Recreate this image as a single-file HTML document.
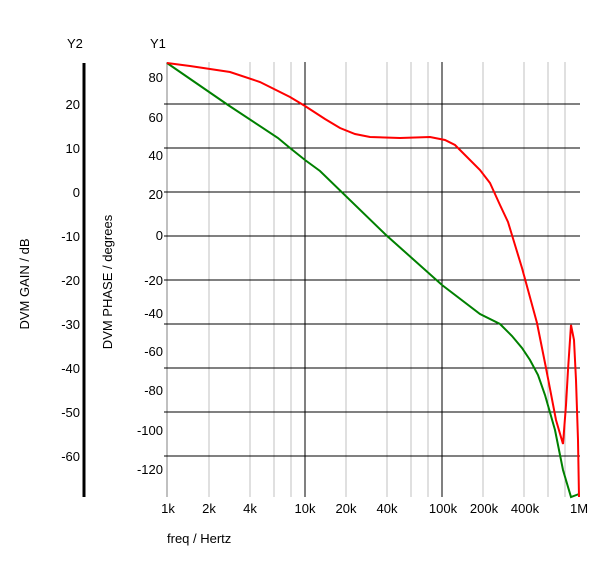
<!DOCTYPE html>
<html><head><meta charset="utf-8"><style>body{margin:0;background:#fff}svg{display:block;font-family:"Liberation Sans",sans-serif;font-size:13px}</style></head><body>
<svg width="600" height="563" viewBox="0 0 600 563">
<rect width="600" height="563" fill="#fff"/>
<g stroke="#c0c0c0" stroke-width="1">
<line x1="167" y1="62" x2="167" y2="497" stroke-width="2"/>
<line x1="209" y1="62" x2="209" y2="497"/><line x1="250" y1="62" x2="250" y2="497"/><line x1="274" y1="62" x2="274" y2="497"/><line x1="291" y1="62" x2="291" y2="497"/>
<line x1="346" y1="62" x2="346" y2="497"/><line x1="387" y1="62" x2="387" y2="497"/><line x1="411" y1="62" x2="411" y2="497"/><line x1="428" y1="62" x2="428" y2="497"/>
<line x1="483" y1="62" x2="483" y2="497"/><line x1="524" y1="62" x2="524" y2="497"/><line x1="548" y1="62" x2="548" y2="497"/><line x1="565" y1="62" x2="565" y2="497"/>
</g>
<g stroke="#000" stroke-width="1">
<line x1="305" y1="62" x2="305" y2="497"/><line x1="442" y1="62" x2="442" y2="497"/>
<line x1="164" y1="104" x2="580" y2="104"/><line x1="164" y1="148" x2="580" y2="148"/><line x1="164" y1="192" x2="580" y2="192"/><line x1="164" y1="236" x2="580" y2="236"/><line x1="164" y1="280" x2="580" y2="280"/><line x1="164" y1="324" x2="580" y2="324"/><line x1="164" y1="368" x2="580" y2="368"/><line x1="164" y1="412" x2="580" y2="412"/><line x1="164" y1="456" x2="580" y2="456"/>
</g>
<line x1="84" y1="63" x2="84" y2="497" stroke="#000" stroke-width="3"/>
<g fill="#000">
<text x="67" y="48">Y2</text><text x="150" y="48">Y1</text>
<g text-anchor="end"><text x="80" y="109">20</text><text x="80" y="153">10</text><text x="80" y="197">0</text><text x="80" y="241">-10</text><text x="80" y="285">-20</text><text x="80" y="329">-30</text><text x="80" y="373">-40</text><text x="80" y="417">-50</text><text x="80" y="461">-60</text></g>
<g text-anchor="end"><text x="163" y="82">80</text><text x="163" y="122">60</text><text x="163" y="160">40</text><text x="163" y="199">20</text><text x="163" y="240">0</text><text x="163" y="285">-20</text><text x="163" y="318">-40</text><text x="163" y="356">-60</text><text x="163" y="395">-80</text><text x="163" y="435">-100</text><text x="163" y="474">-120</text></g>
<g text-anchor="middle"><text x="168" y="513">1k</text><text x="209" y="513">2k</text><text x="250" y="513">4k</text><text x="305" y="513">10k</text><text x="346" y="513">20k</text><text x="387" y="513">40k</text><text x="443" y="513">100k</text><text x="484" y="513">200k</text><text x="525" y="513">400k</text><text x="579" y="513">1M</text></g>
<text x="167" y="543">freq / Hertz</text>
<text transform="translate(29,284) rotate(-90)" text-anchor="middle">DVM GAIN / dB</text>
<text transform="translate(112,282) rotate(-90)" text-anchor="middle">DVM PHASE / degrees</text>
</g>
<polyline fill="none" stroke="#008000" stroke-width="2" points="167,63 228,105 278,138 290,148 305,160 320,171 386,235 442,285 480,314 500,324 512,336 522,348 530,360 538,375 545,395 555,430 563,470 571,497 579,494"/>
<polyline fill="none" stroke="#ff0000" stroke-width="2" points="167,63 190,66 230,72 260,82 290,97 305,106 325,119 340,128 355,134 370,137 400,138 430,137 445,140 455,145 465,155 480,170 490,183 500,205 508,222 515,245 522,268 528,290 537,323 546,368 556,420 563,444 566,405 568,370 571,325 574,340 576,380 578,440 579,497"/>
</svg>
</body></html>
